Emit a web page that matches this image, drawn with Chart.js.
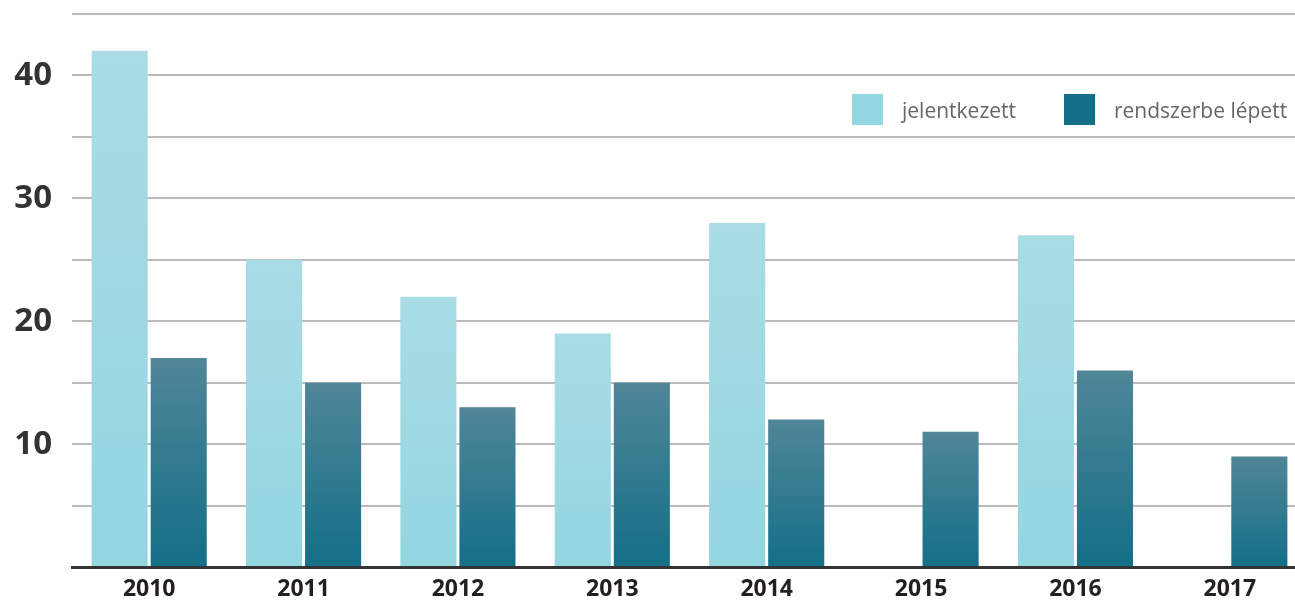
<!DOCTYPE html>
<html>
<head>
<meta charset="utf-8">
<script src="https://cdn.jsdelivr.net/npm/chart.js@4/dist/chart.umd.min.js"></script>
<style>
  html, body { margin: 0; padding: 0; background: #fff; overflow: hidden; }
  #wrap { position: relative; width: 1307px; height: 604px; }
  #legend { position: absolute; top: 94px; left: 852px; display: flex; white-space: nowrap; font-family: "Open Sans", sans-serif; font-size: 21px; color: #666; }
  .item { display: flex; align-items: center; height: 31px; margin-right: 48px; }
  .swatch { width: 31px; height: 31px; margin-right: 19px; }
</style>
</head>
<body>
<div id="wrap">
  <canvas id="chart" width="1307" height="604"></canvas>
  <div id="legend"></div>
</div>
<script>
const YEARS       = ['2010', '2011', '2012', '2013', '2014', '2015', '2016', '2017'];
const JELENTKEZETT = [42, 25, 22, 19, 28, null, 27, null];
const RENDSZERBE   = [17, 15, 13, 15, 12, 11, 16, 9];
const LABELS      = ['jelentkezett', 'rendszerbe lépett'];
const Y_MAX       = 45;
const Y_STEP      = 5;
const Y_SHOWN     = [10, 20, 30, 40];   // only these get a label

const LIGHT = { top: '#a9dce5', bottom: '#93d6e0', swatch: '#93d7e0' };
const DARK  = { top: '#508698', bottom: '#136f87', swatch: '#136f87' };

// vertical gradient per bar, from its top down to zero
function barFill(col) {
  return (ctx) => {
    const chart = ctx.chart;
    const y = chart.scales.y;
    if (!y || ctx.raw == null) return col.bottom;
    const top = y.getPixelForValue(ctx.raw);
    const base = y.getPixelForValue(0);
    if (!isFinite(top) || !isFinite(base) || top === base) return col.bottom;
    const g = chart.ctx.createLinearGradient(0, top, 0, base);
    g.addColorStop(0, col.top);
    g.addColorStop(1, col.bottom);
    return g;
  };
}

const chart = new Chart(document.getElementById('chart'), {
  type: 'bar',
  data: {
    labels: YEARS,
    datasets: [
      { label: LABELS[0], data: JELENTKEZETT, backgroundColor: barFill(LIGHT), swatch: LIGHT.swatch },
      { label: LABELS[1], data: RENDSZERBE,   backgroundColor: barFill(DARK),  swatch: DARK.swatch }
    ]
  },
  options: {
    responsive: false,
    animation: false,
    categoryPercentage: 0.765,
    barPercentage: 0.95,
    layout: { padding: { top: 14, right: 0, bottom: 0, left: 0 } },
    plugins: { legend: { display: false }, tooltip: { enabled: false } },
    scales: {
      x: {
        afterFit: (s) => { s.height = 37; s.paddingLeft = 0; s.paddingRight = 0; },
        grid: { display: false, drawTicks: false },
        border: { display: true, color: '#333', width: 3 },
        ticks: {
          padding: 9,
          color: '#231f20',
          font: { family: 'Open Sans', size: 23, weight: 'bold' }
        }
      },
      y: {
        min: 0,
        max: Y_MAX,
        afterFit: (s) => { s.width = 72; s.paddingTop = 0; s.paddingBottom = 0; },
        grid: { color: '#bbb', lineWidth: 2, drawTicks: false },
        border: { display: false },
        ticks: {
          stepSize: Y_STEP,
          padding: 20,
          color: '#333',
          font: { family: 'Open Sans', size: 33, weight: 'bold' },
          callback: (v) => Y_SHOWN.includes(v) ? String(v) : ''
        }
      }
    }
  }
});

const legend = document.getElementById('legend');
chart.data.datasets.forEach(ds => {
  const item = document.createElement('div');
  item.className = 'item';
  item.innerHTML = `<span class="swatch" style="background:${ds.swatch}"></span><span>${ds.label}</span>`;
  legend.appendChild(item);
});
</script>
</body>
</html>
